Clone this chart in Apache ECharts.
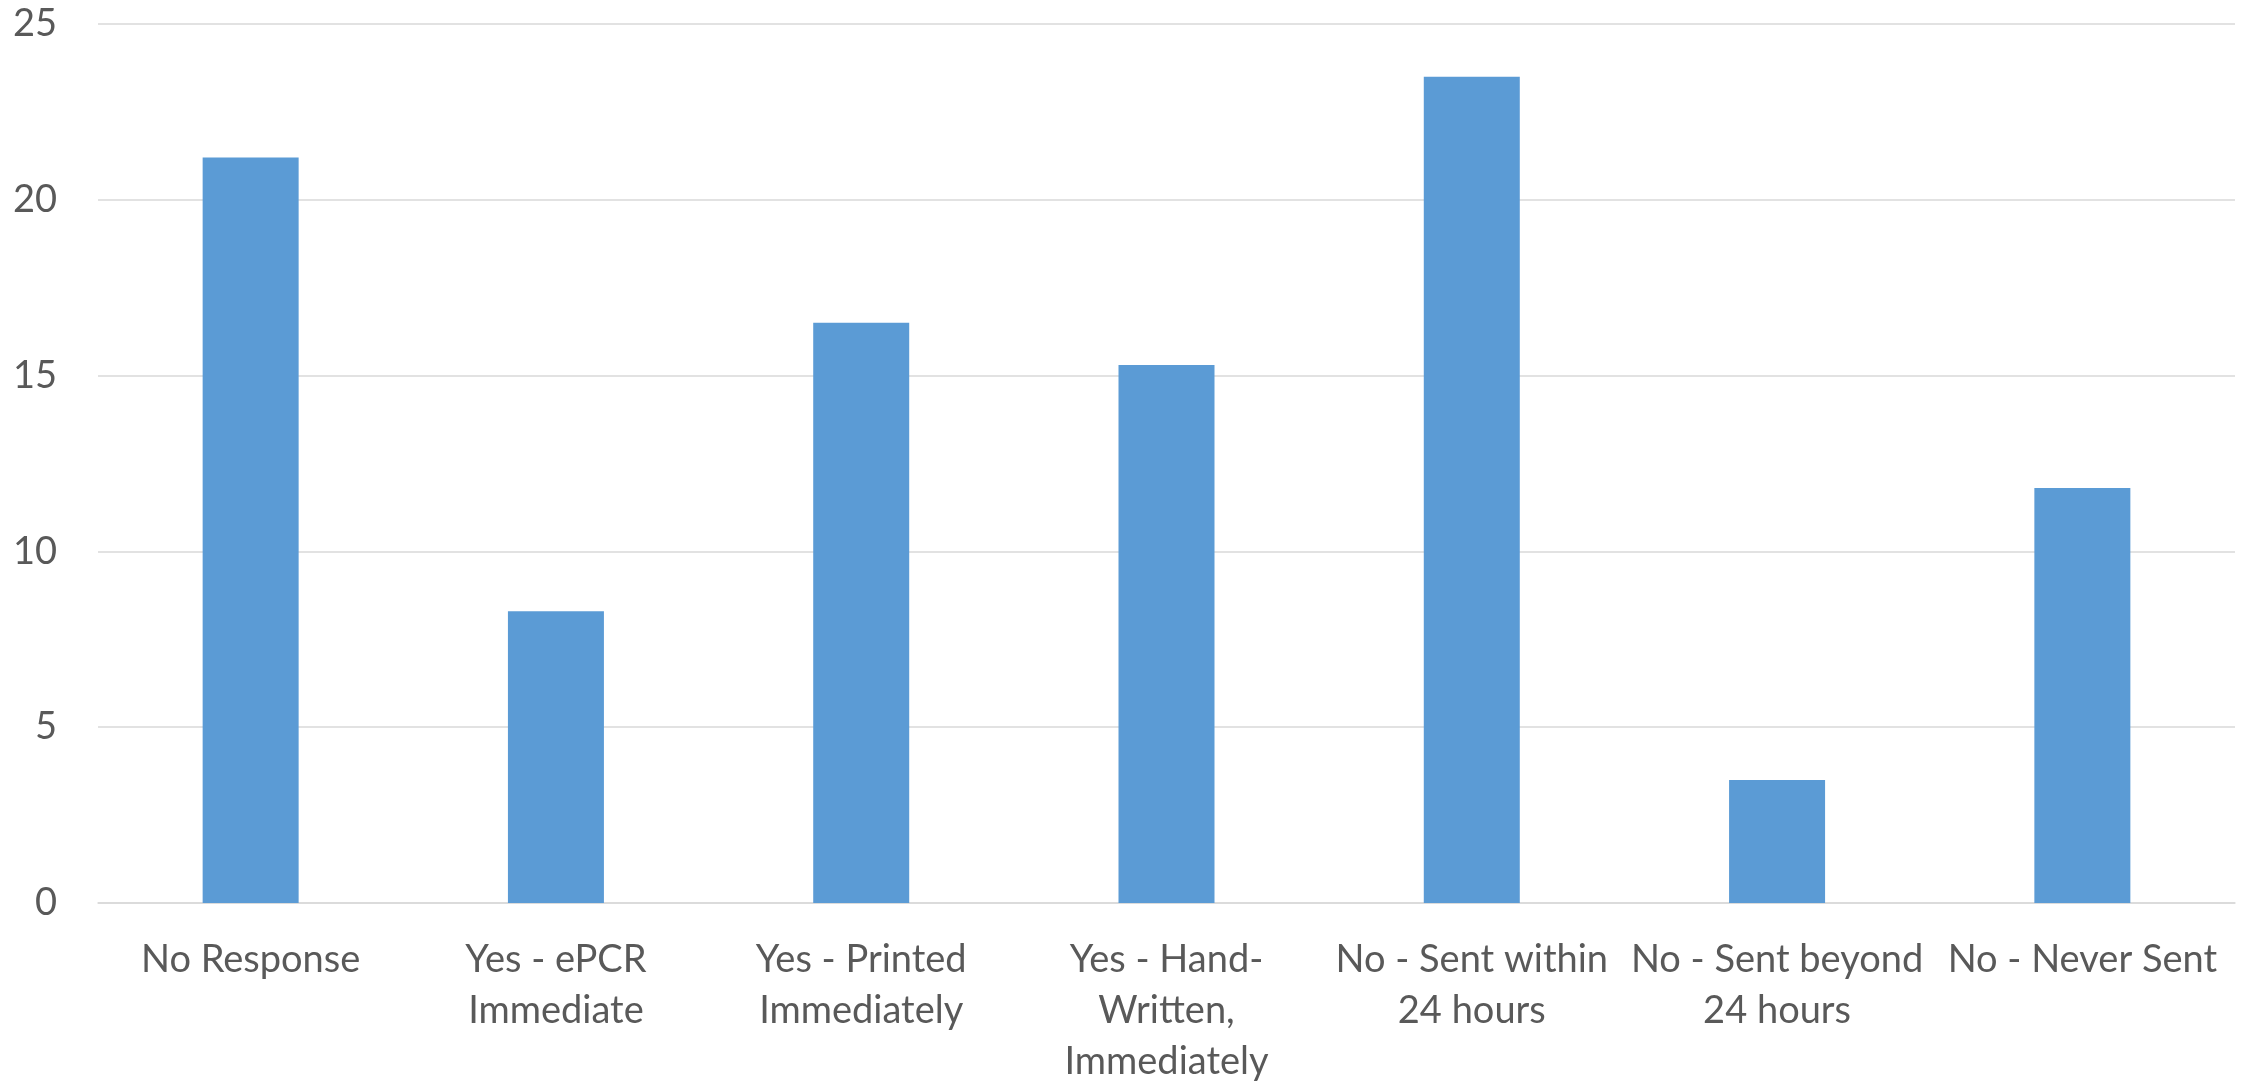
<!DOCTYPE html>
<html>
<head>
<meta charset="utf-8">
<style>
  html, body { margin: 0; padding: 0; background: #ffffff; }
  #chart { width: 2254px; height: 1087px; }
</style>
<script src="https://cdn.jsdelivr.net/npm/echarts@6/dist/echarts.min.js"></script>
</head>
<body>
<div id="chart"></div>
<script>
// Report handover timing categories (line breaks as shown under the axis)
const categories = [
  'No Response',
  'Yes - ePCR\nImmediate',
  'Yes - Printed\nImmediately',
  'Yes - Hand-\nWritten,\nImmediately',
  'No - Sent within\n24 hours',
  'No - Sent beyond\n24 hours',
  'No - Never Sent'
];

// Share of responses per category
const values = [21.2, 8.3, 16.5, 15.3, 23.5, 3.5, 11.8];

// Value axis range and step
const yMin = 0;
const yMax = 25;
const yStep = 5;

const textColor = '#595959';
const fontFamily = 'Lato, "Open Sans", sans-serif';

const chart = echarts.init(document.getElementById('chart'), null, { renderer: 'canvas' });

chart.setOption({
  backgroundColor: '#ffffff',
  animation: false,
  grid: { left: 98, right: 19, top: 24, bottom: 181, containLabel: false },
  xAxis: {
    type: 'category',
    data: categories,
    axisTick: { show: false },
    axisLine: { show: true, lineStyle: { color: '#d9d9d9', width: 1.5 } },
    axisLabel: {
      interval: 0,
      color: textColor,
      fontFamily: fontFamily,
      fontSize: 38,
      lineHeight: 51,
      margin: 31,
      align: 'center'
    }
  },
  yAxis: {
    type: 'value',
    min: yMin,
    max: yMax,
    interval: yStep,
    axisLine: { show: false },
    axisTick: { show: false },
    splitLine: { lineStyle: { color: '#d9d9d9', width: 1.5 } },
    axisLabel: {
      color: textColor,
      fontFamily: fontFamily,
      fontSize: 38,
      margin: 41
    }
  },
  series: [{
    type: 'bar',
    data: values,
    barWidth: 96,
    itemStyle: { color: '#5b9bd5' }
  }]
});
</script>
</body>
</html>
